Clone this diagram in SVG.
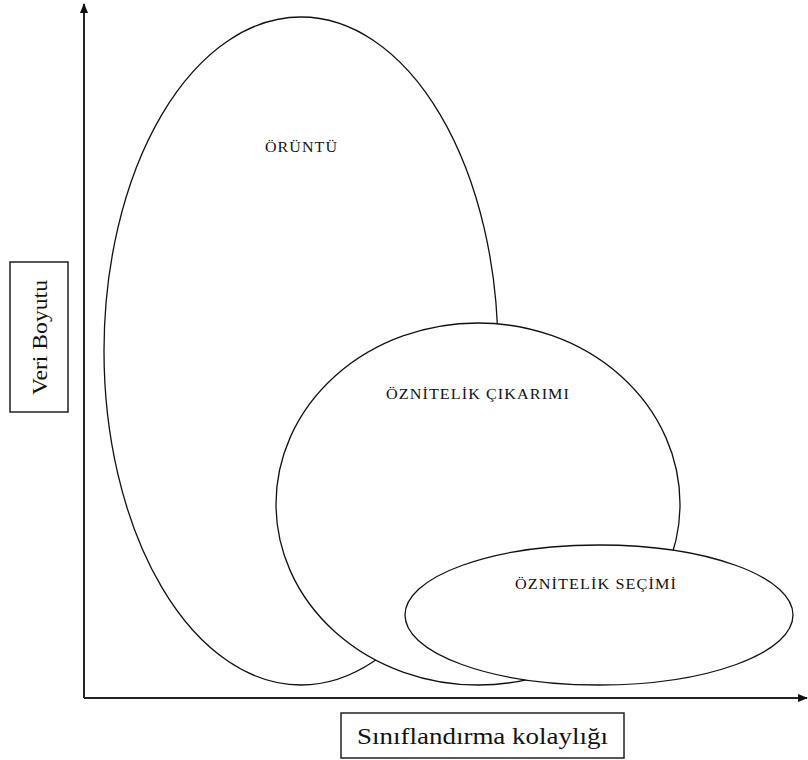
<svg xmlns="http://www.w3.org/2000/svg" width="808" height="760" viewBox="0 0 808 760">
<style>
.ax{stroke:#222;stroke-width:2;fill:none}
.el{stroke:#111;stroke-width:1.3;fill:#fff}
.lbl{font-family:"Liberation Serif","Times New Roman",serif;fill:#111}
.small{font-size:15px;letter-spacing:1px}
.box{fill:#fff;stroke:#222;stroke-width:1.5}
</style>
<defs>
<marker id="ah" markerWidth="10" markerHeight="10" refX="9" refY="5" orient="auto" markerUnits="userSpaceOnUse">
<path d="M0,1 L10,5 L0,9 Z" fill="#111"/>
</marker>
</defs>
<g id="connectors">
<line class="ax" x1="84" y1="698" x2="84" y2="4" marker-end="url(#ah)"/>
<line class="ax" x1="84" y1="698" x2="807" y2="698" marker-end="url(#ah)"/>
</g>
<g id="oruntu">
<ellipse class="el" cx="301" cy="351" rx="197" ry="334"/>
<text class="lbl small" x="265" y="152" textLength="73" lengthAdjust="spacingAndGlyphs">ÖRÜNTÜ</text>
</g>
<g id="oznitelik-cikarimi">
<ellipse class="el" cx="478" cy="504" rx="202" ry="181"/>
<text class="lbl small" x="386" y="399" textLength="184" lengthAdjust="spacingAndGlyphs">ÖZNİTELİK  ÇIKARIMI</text>
</g>
<g id="oznitelik-secimi">
<ellipse class="el" cx="599" cy="615" rx="194" ry="70"/>
<text class="lbl small" x="515" y="589" textLength="162" lengthAdjust="spacingAndGlyphs">ÖZNİTELİK  SEÇİMİ</text>
</g>
<g id="y-label">
<rect class="box" x="10" y="262" width="58" height="150"/>
<text class="lbl" font-size="22" transform="translate(47,395) rotate(-90)" textLength="115" lengthAdjust="spacingAndGlyphs">Veri Boyutu</text>
</g>
<g id="x-label">
<rect class="box" x="341" y="713" width="283" height="45"/>
<text class="lbl" font-size="24" x="357" y="744" textLength="251" lengthAdjust="spacingAndGlyphs">Sınıflandırma kolaylığı</text>
</g>
</svg>
